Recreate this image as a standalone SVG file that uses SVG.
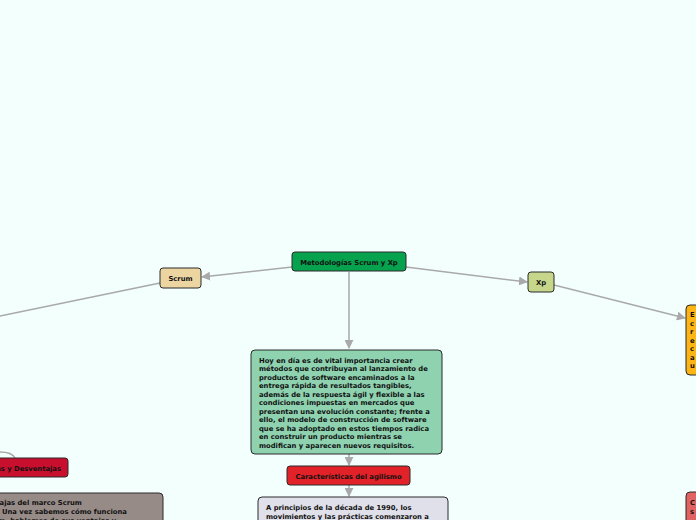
<svg xmlns="http://www.w3.org/2000/svg" width="696" height="520" viewBox="0 0 696 520">
<defs>
<style>
.n{stroke:#2a2a2a;stroke-width:1}
.t{font-family:"DejaVu Sans",Verdana,sans-serif;font-weight:bold;font-size:6.8px;fill:#111}
.c{fill:none;stroke:#a9a9a9;stroke-width:1.5}
</style>
<marker id="ah" viewBox="0 0 10 10" refX="9" refY="5" markerWidth="9" markerHeight="9" orient="auto" markerUnits="userSpaceOnUse">
<path d="M0,0 L10,5 L0,10 z" fill="#a9a9a9"/>
</marker>
</defs>
<rect width="696" height="520" fill="#f3fffd"/>
<g id="connectors">
<path class="c" d="M292,267 L202,277" marker-end="url(#ah)"/>
<path class="c" d="M406,267 L527,282" marker-end="url(#ah)"/>
<path class="c" d="M349,272 L349,348" marker-end="url(#ah)"/>
<path class="c" d="M554,285 L685,318" marker-end="url(#ah)"/>
<path class="c" d="M160,283 L0,316"/>
<path class="c" d="M349,454 L349,465" marker-end="url(#ah)"/>
<path class="c" d="M349,485 L349,496" marker-end="url(#ah)"/>
<path class="c" d="M0,452 Q12,452 15,458"/>
</g>
<g id="n-root">
<rect class="n" x="292" y="252" width="114" height="19" rx="3" fill="#06a24e"/>
<text class="t" x="349" y="264.5" text-anchor="middle">Metodologías Scrum y Xp</text>
</g>
<g id="n-scrum">
<rect class="n" x="160" y="268" width="41" height="20" rx="3" fill="#edd5a2"/>
<text class="t" x="180.5" y="280.5" text-anchor="middle">Scrum</text>
</g>
<g id="n-xp">
<rect class="n" x="528" y="272" width="26" height="20" rx="3" fill="#c6d68b"/>
<text class="t" x="541" y="284.5" text-anchor="middle">Xp</text>
</g>
<g id="n-intro">
<rect class="n" x="251" y="350" width="191" height="104" rx="4" fill="#8ed2b0"/>
<text class="t">
<tspan x="259" y="362.5">Hoy en día es de vital importancia crear</tspan>
<tspan x="259" y="371">métodos que contribuyan al lanzamiento de</tspan>
<tspan x="259" y="379.5">productos de software encaminados a la</tspan>
<tspan x="259" y="388">entrega rápida de resultados tangibles,</tspan>
<tspan x="259" y="396.5">además de la respuesta ágil y flexible a las</tspan>
<tspan x="259" y="405">condiciones impuestas en mercados que</tspan>
<tspan x="259" y="413.5">presentan una evolución constante; frente a</tspan>
<tspan x="259" y="422">ello, el modelo de construcción de software</tspan>
<tspan x="259" y="430.5">que se ha adoptado en estos tiempos radica</tspan>
<tspan x="259" y="439">en construir un producto mientras se</tspan>
<tspan x="259" y="447.5">modifican y aparecen nuevos requisitos.</tspan>
</text>
</g>
<g id="n-caract">
<rect class="n" x="287" y="466" width="123" height="19" rx="3" fill="#e12228"/>
<text class="t" x="348.5" y="478.5" text-anchor="middle">Características del agilismo</text>
</g>
<g id="n-principios">
<rect class="n" x="258" y="497" width="190" height="30" rx="4" fill="#e0e0ea"/>
<text class="t">
<tspan x="266" y="509.5">A principios de la década de 1990, los</tspan>
<tspan x="266" y="518.5">movimientos y las prácticas comenzaron a</tspan>
</text>
</g>
<g id="n-ventajas">
<rect class="n" x="-40" y="458" width="108" height="19" rx="3" fill="#c8102e"/>
<text class="t" x="61" y="470.5" text-anchor="end">Ventajas y Desventajas</text>
</g>
<g id="n-marco">
<rect class="n" x="-60" y="493" width="223" height="40" rx="4" fill="#978b87"/>
<text class="t">
<tspan x="-18" y="505">Ventajas del marco Scrum</tspan>
<tspan x="2" y="514">Una vez sabemos cómo funciona</tspan>
<tspan x="-19" y="523">Scrum, hablemos de sus ventajas y</tspan>
</text>
</g>
<g id="n-xpdesc">
<rect class="n" x="686" y="305" width="40" height="70" rx="4" fill="#fdb515"/>
<text class="t">
<tspan x="690" y="317">E</tspan>
<tspan x="690" y="325.5">c</tspan>
<tspan x="690" y="334">r</tspan>
<tspan x="690" y="342.5">e</tspan>
<tspan x="690" y="351">c</tspan>
<tspan x="690" y="359.5">a</tspan>
<tspan x="690" y="368">u</tspan>
</text>
</g>
<g id="n-xpred">
<rect class="n" x="686" y="492" width="40" height="40" rx="4" fill="#e06262"/>
<text class="t">
<tspan x="690" y="505">C</tspan>
<tspan x="690" y="513.5">s</tspan>
</text>
</g>
</svg>
